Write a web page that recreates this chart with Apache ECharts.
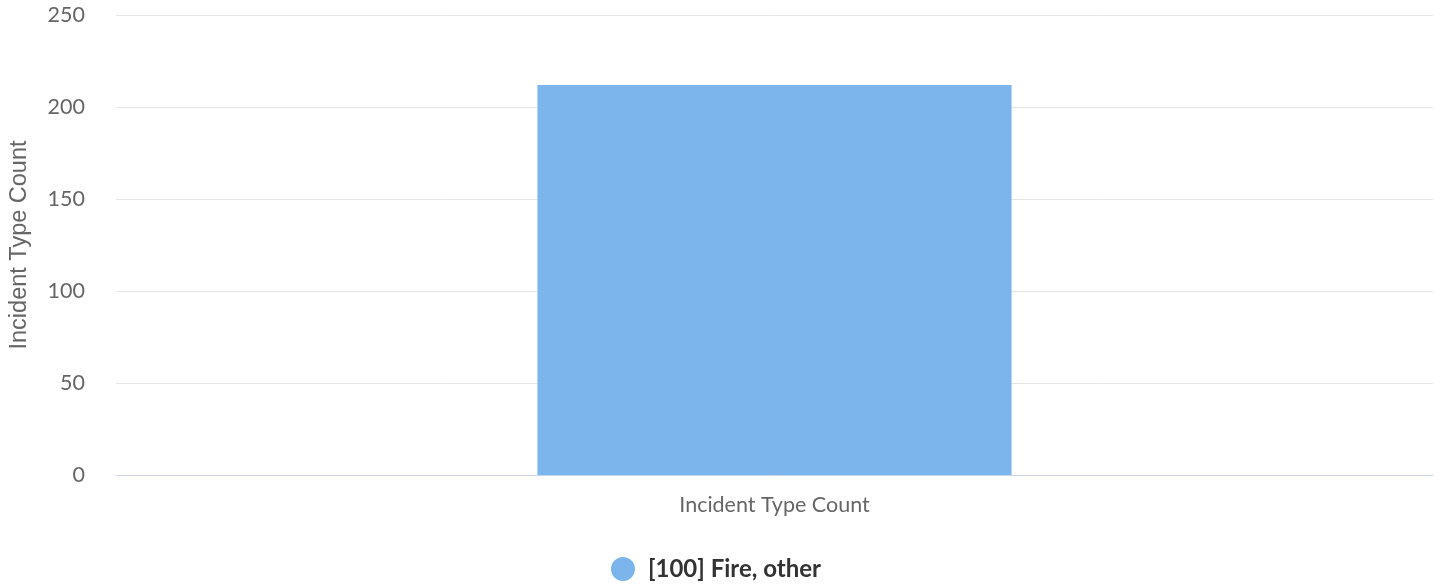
<!DOCTYPE html>
<html><head><meta charset="utf-8">
<script src="https://cdn.jsdelivr.net/npm/echarts@6/dist/echarts.min.js"></script>
<style>html,body{margin:0;padding:0;background:#fff}#c{width:1441px;height:584px}</style>
</head><body><div id="c"></div>
<script>
const categories = ['Incident Type Count'];
const seriesName = '[100] Fire, other';
const values = [212];
const yTicks = { min: 0, max: 250, interval: 50 };
const yTitle = 'Incident Type Count';

const chart = echarts.init(document.getElementById('c'), null, { renderer: 'canvas' });
chart.setOption({
  animation: false,
  grid: { left: 116, right: 8, top: 15, bottom: 109, containLabel: false, outerBoundsMode: 'none' },
  legend: {
    bottom: -2, left: 606,
    icon: 'circle', itemWidth: 24, itemHeight: 24, itemGap: 10,
    textStyle: { fontFamily: 'Lato', fontWeight: 'bold', fontSize: 24, color: '#333', padding: [0, 0, 0, 8] },
    data: [seriesName]
  },
  xAxis: {
    type: 'category', data: categories,
    axisLine: { lineStyle: { color: '#ccd6eb', width: 1 } },
    axisTick: { show: false },
    axisLabel: { fontFamily: 'Lato', fontSize: 21.5, color: '#666', margin: 19 }
  },
  yAxis: {
    type: 'value', min: yTicks.min, max: yTicks.max, interval: yTicks.interval,
    name: yTitle, nameLocation: 'middle', nameGap: 84, nameRotate: 90,
    nameTextStyle: { fontFamily: 'Liberation Sans', fontSize: 23.5, color: '#666' },
    axisLine: { show: false }, axisTick: { show: false },
    axisLabel: { fontFamily: 'Lato', fontSize: 21.5, color: '#666', margin: 31 },
    splitLine: { lineStyle: { color: '#e6e6e6', width: 1 } }
  },
  series: [{
    name: seriesName, type: 'bar', data: values, barWidth: '36%',
    itemStyle: { color: '#7cb5ec' }
  }]
});
</script></body></html>
